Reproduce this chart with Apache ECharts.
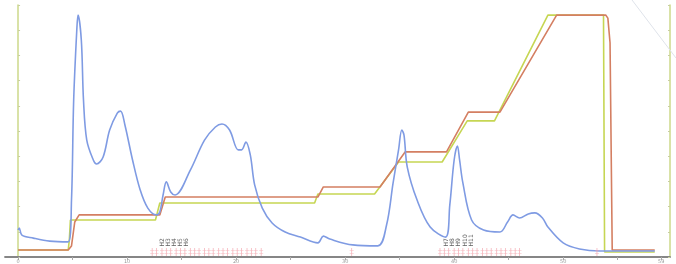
<!DOCTYPE html>
<html>
<head>
<meta charset="utf-8">
<script src="https://cdn.jsdelivr.net/npm/echarts@6/dist/echarts.min.js"></script>
<style>
  html, body { margin: 0; padding: 0; background: #fff; }
  #chart { width: 676px; height: 264px; }
</style>
</head>
<body>
<div id="chart"></div>
<script>
// x = run time (min), y = % of full scale
var uv = [
  [0.0, 10.7], [0.1, 11.5], [0.35, 8.7], [1.4, 7.5], [2.9, 6.3], [4.6, 6.0],
  [4.9, 22.6], [5.1, 62.3], [5.4, 91.3], [5.5, 96.0], [5.8, 86.1], [6.0, 62.3],
  [6.3, 46.4], [6.9, 38.5], [7.2, 36.9], [7.8, 39.7], [8.4, 50.4], [9.1, 57.1],
  [9.4, 57.9], [9.8, 52.4], [10.5, 38.5], [11.2, 26.6], [11.9, 19.4], [12.7, 16.7],
  [13.0, 17.9], [13.3, 24.6], [13.6, 29.8], [14.0, 25.8], [14.4, 24.6], [15.8, 34.5],
  [17.1, 46.4], [18.1, 51.6], [18.7, 52.8], [19.4, 50.4], [20.2, 42.5], [20.5, 42.5],
  [20.9, 45.6], [21.3, 40.5], [21.7, 28.6], [22.4, 19.4], [23.3, 13.5], [24.5, 9.9],
  [25.9, 7.9], [27.5, 5.6], [28.0, 8.3], [28.6, 7.1], [30.7, 4.8], [33.0, 4.4],
  [33.8, 12.7], [34.4, 29.4], [34.9, 42.5], [35.2, 50.4], [35.4, 48.4], [35.7, 35.7],
  [36.6, 22.6], [37.8, 11.9], [39.2, 7.9], [39.6, 20.6], [40.0, 38.5], [40.3, 44.0],
  [40.5, 38.5], [40.8, 29.4], [41.6, 14.7], [42.7, 10.7], [44.2, 9.9], [44.9, 13.9],
  [45.4, 16.7], [46.0, 15.5], [46.8, 17.1], [47.4, 17.5], [48.1, 15.5], [48.6, 11.9],
  [50.0, 5.6], [51.5, 3.2], [53.4, 2.4], [58.4, 2.4]
];
var conductivity = [
  [0.0, 2.8], [4.6, 2.8], [4.9, 4.4], [5.2, 13.9], [5.6, 16.7], [13.0, 16.7],
  [13.5, 23.8], [27.5, 23.8], [28.0, 27.8], [33.2, 27.8], [35.5, 41.7], [39.3, 41.7],
  [41.3, 57.5], [44.2, 57.5], [49.4, 96.0], [53.9, 96.0], [54.1, 94.8], [54.3, 85.0],
  [54.5, 2.8], [58.4, 2.8]
];
var concB = [
  [0.0, 2.8], [4.6, 2.8], [4.7, 6.7], [4.8, 14.7], [12.6, 14.7], [13.0, 21.4],
  [27.2, 21.4], [27.5, 25.0], [32.7, 25.0], [34.9, 37.7], [38.9, 37.7], [41.2, 54.0],
  [43.7, 54.0], [48.6, 96.0], [53.7, 96.0], [53.8, 2.0], [58.4, 2.0]
];
var fractionMarks = [
  12.3, 12.7, 13.2, 13.6, 14.0, 14.5, 14.9, 15.3, 15.8, 16.2, 16.6, 17.1,
  17.5, 17.9, 18.4, 18.8, 19.2, 19.7, 20.1, 20.5, 21.0, 21.4, 21.8, 22.3,
  30.6,
  38.7, 39.1, 39.5, 40.0, 40.4, 40.8, 41.3, 41.7, 42.1, 42.6, 43.0, 43.4,
  43.9, 44.3, 44.7, 45.2, 45.6, 46.0,
  53.1
];
var fractionNames = ['H2', 'H3', 'H4', 'H5', 'H6', 'H7', 'H8', 'H9', 'H10', 'H11'];
var fractionNameX = [13.2, 13.8, 14.3, 14.9, 15.4, 39.3, 39.8, 40.4, 41.0, 41.6];
var xLabelValues = [0, 10, 20, 30, 40, 50, 59];
var xTickValues = [0, 5, 10, 15, 20, 25, 30, 35, 40, 45, 50, 55, 59];

var axisGreen = '#cdd98a';

var option = {
  animation: false,
  backgroundColor: '#fff',
  grid: { left: 5, right: 6, top: 5, bottom: 7 },
  // faint scan streak in the top right corner
  graphic: [{
    type: 'line',
    shape: { x1: 632, y1: 0, x2: 676, y2: 58 },
    style: { stroke: '#dfe3ea', lineWidth: 1 },
    z: 1
  }],
  xAxis: {
    type: 'value',
    min: -1.2,
    max: 59.8,
    axisLine: { lineStyle: { color: '#868686', width: 1.8 } },
    axisTick: { customValues: xTickValues, length: 3, lineStyle: { color: '#aaa' } },
    axisLabel: {
      customValues: xLabelValues,
      fontSize: 5,
      color: '#999',
      margin: 2,
      fontFamily: 'DejaVu Sans'
    },
    splitLine: { show: false }
  },
  yAxis: [
    {
      type: 'value',
      min: 0,
      max: 100,
      interval: 10,
      axisLine: { show: true, lineStyle: { color: axisGreen, width: 1.5 } },
      axisTick: { show: true, inside: true, length: 2, lineStyle: { color: '#c8cfa0' } },
      axisLabel: { show: false },
      splitLine: { show: false }
    },
    {
      type: 'value',
      min: 0,
      max: 100,
      interval: 10,
      position: 'right',
      axisLine: { show: true, lineStyle: { color: axisGreen, width: 1.5 } },
      axisTick: { show: true, inside: true, length: 2, lineStyle: { color: '#c8cfa0' } },
      axisLabel: { show: false },
      splitLine: { show: false }
    }
  ],
  series: [
    {
      name: 'Conc B',
      type: 'line',
      yAxisIndex: 1,
      data: concB,
      showSymbol: false,
      lineStyle: { color: '#c6d653', width: 1.6 },
      z: 2
    },
    {
      name: 'Cond',
      type: 'line',
      yAxisIndex: 1,
      data: conductivity,
      showSymbol: false,
      lineStyle: { color: '#d47f62', width: 1.6 },
      z: 3
    },
    {
      name: 'UV',
      type: 'line',
      data: uv,
      smooth: 0.35,
      showSymbol: false,
      lineStyle: { color: '#7f9be3', width: 1.6 },
      z: 4
    },
    {
      name: 'Fractions',
      type: 'scatter',
      data: fractionMarks.map(function (x) { return [x, 2]; }),
      symbol: 'path://M0.8,0h0.4v8h-0.4z M0,2h2v0.5h-2z M0,5h2v0.5h-2z',
      symbolSize: [4, 8],
      itemStyle: { color: '#f2a3ab' },
      z: 5
    },
    {
      name: 'Fraction labels',
      type: 'scatter',
      data: fractionNameX.map(function (x, i) { return { value: [x, 4.2], name: fractionNames[i] }; }),
      symbolSize: 0,
      label: {
        show: true,
        formatter: '{b}',
        rotate: 90,
        position: 'inside',
        align: 'left',
        verticalAlign: 'middle',
        fontSize: 6,
        color: '#333',
        fontFamily: 'DejaVu Sans'
      },
      z: 6
    }
  ]
};

var chart = echarts.init(document.getElementById('chart'));
chart.setOption(option);
</script>
</body>
</html>
